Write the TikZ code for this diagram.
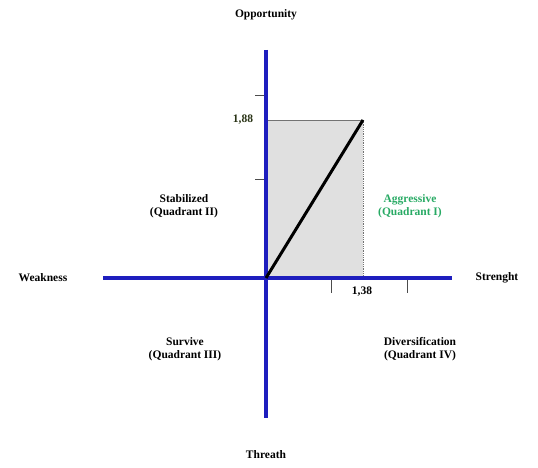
\documentclass[tikz,border=0pt]{standalone}
\usepackage{fontspec}
\setmainfont{Liberation Serif}
\definecolor{axisblue}{RGB}{30,30,190}
\definecolor{quadgreen}{RGB}{40,170,100}
\definecolor{darkolive}{RGB}{40,50,20}
\begin{document}
\begin{tikzpicture}[x=1pt,y=-1pt,
  lbl/.style={font=\bfseries\fontsize{11.5}{13.5}\selectfont,align=center,inner sep=1pt},
  axisline/.style={draw=axisblue,line width=3.5pt},
  tick/.style={draw=black!70,line width=0.8pt}]
\useasboundingbox (0,0) rectangle (538,468);
% coordinates
\coordinate (O) at (266,278);
\coordinate (top) at (266,50);
\coordinate (bot) at (266,418);
\coordinate (left) at (103,278);
\coordinate (right) at (452,278);
\coordinate (P) at (363,120);
\coordinate (PL) at (266,120);
\coordinate (PB) at (363,278);
% shaded rectangle
\fill[black!12] (O) rectangle (P);
\draw[black!55,line width=0.8pt] (PL) -- (P);
\draw[black!55,line width=0.8pt,densely dotted] (P) -- (PB);
% ticks
\draw[tick] (255,95) -- (266,95);
\draw[tick] (255,179) -- (266,179);
\draw[tick] (331,278) -- (331,293);
\draw[tick] (407,278) -- (407,293);
% axes
\draw[axisline] (left) -- (right);
\draw[axisline] (top) -- (bot);
% diagonal
\draw[black,line width=3pt] (O) -- (P);
% labels
\node[lbl] (opp) at (266,15) {Opportunity};
\node[lbl] (thr) at (266,455) {Threath};
\node[lbl] (weak) at (43,278) {Weakness};
\node[lbl] (str) at (497,278) {Strenght};
\node[lbl,text=darkolive] (v188) at (243,120) {1,88};
\node[lbl] (v138) at (362,292) {1,38};
\node[lbl] (q2) at (184,206) {Stabilized\\(Quadrant II)};
\node[lbl,text=quadgreen] (q1) at (410,206) {Aggressive\\(Quadrant I)};
\node[lbl] (q3) at (185,349) {Survive\\(Quadrant III)};
\node[lbl] (q4) at (420,349) {Diversification\\(Quadrant IV)};
\end{tikzpicture}
\end{document}
